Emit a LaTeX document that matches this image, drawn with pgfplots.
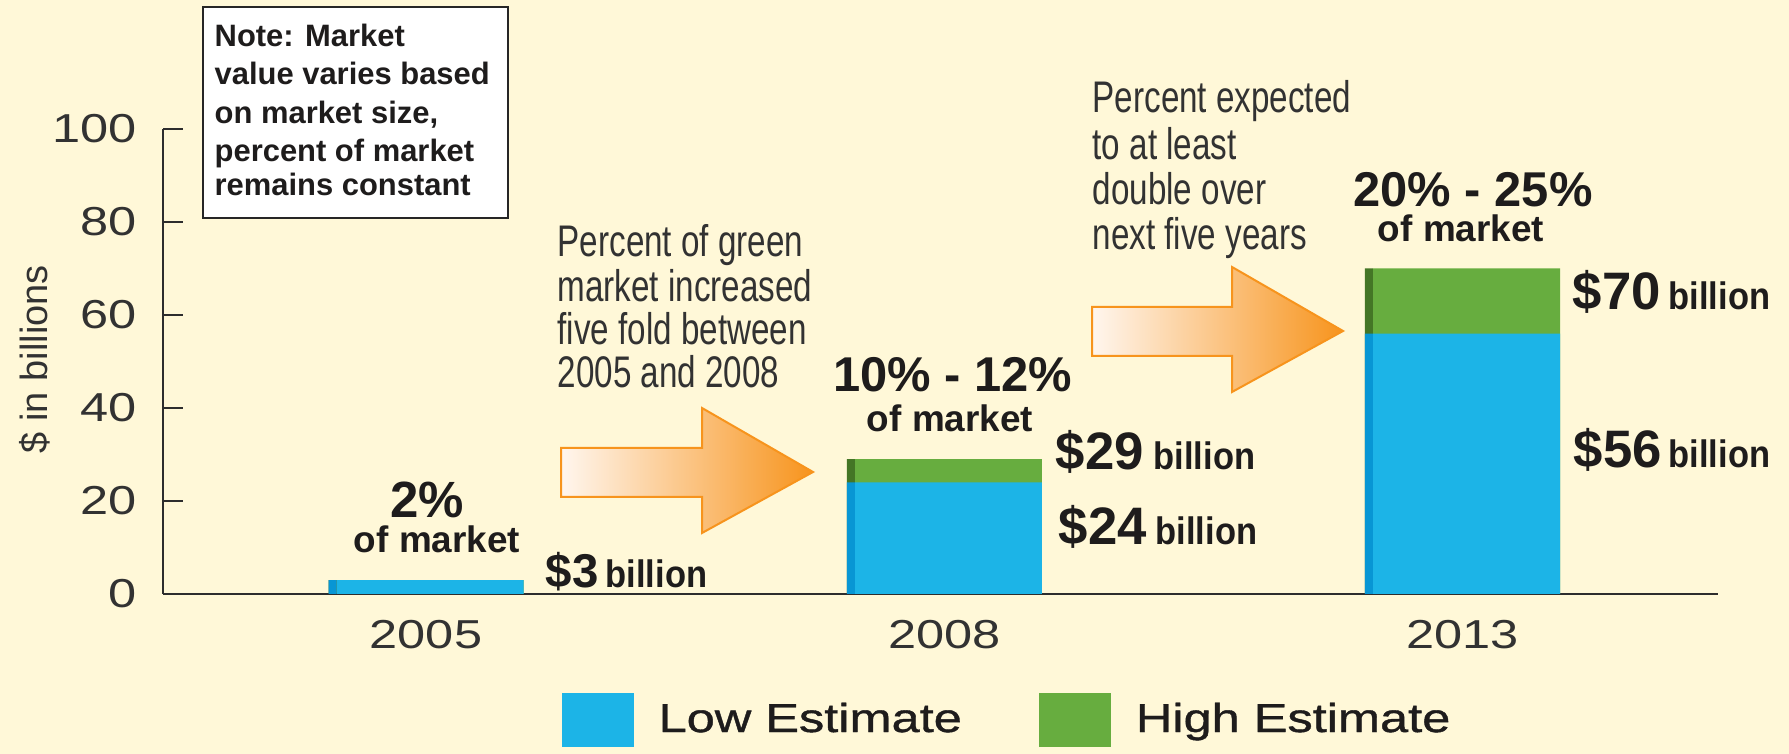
\documentclass[border=0pt]{standalone}
\usepackage{fontspec}
\setmainfont{Liberation Sans}
\newfontfamily\condfont[FakeStretch=0.75]{Liberation Sans}
\newfontfamily\widefont[FakeStretch=1.25]{Liberation Sans}
\newfontfamily\narrowfont[FakeStretch=0.9]{Liberation Sans}
\newfontfamily\legfont[FakeStretch=1.25,FakeBold=1]{Liberation Sans}
\usepackage{pgfplots}
\pgfplotsset{compat=1.18}

\definecolor{bg}{RGB}{255,248,216}
\definecolor{lblue}{RGB}{28,180,231}
\definecolor{lbluedk}{RGB}{8,150,212}
\definecolor{hgreen}{RGB}{103,173,63}
\definecolor{hgreendk}{RGB}{68,118,38}
\definecolor{orange1}{RGB}{247,148,29}
\definecolor{arrowmid}{RGB}{246,162,68}
\definecolor{arrowlight}{RGB}{255,246,238}
\definecolor{textdark}{RGB}{30,28,28}
\definecolor{textgray}{RGB}{50,50,50}
\definecolor{axisgray}{RGB}{45,45,45}

\newcommand\fs[1]{\fontsize{#1}{#1}\selectfont}

\begin{document}
\begin{tikzpicture}
\useasboundingbox (0,0) rectangle (178.9mm,75.4mm);
\fill[bg] (0,0) rectangle (178.9mm,75.4mm);

\begin{axis}[
  at={(16.3mm,16.0mm)}, anchor=south west,
  scale only axis, width=155.5mm, height=46.5mm,
  xmin=-0.5152, xmax=2.4853, ymin=0, ymax=100,
  axis x line*=bottom, axis y line*=left,
  axis line style={draw=axisgray, line width=0.5pt, -},
  ybar, bar width=18.7mm,
  xtick={0,1,2}, xticklabels={2005,2008,2013},
  x tick style={draw=none},
  ytick={0,20,...,100},
  y tick style={draw=axisgray, line width=0.5pt},
  tick align=inside, major tick length=2mm,
  /pgf/number format/assume math mode=true,
  xticklabel style={font=\widefont\fs{11.5}, text=textgray, anchor=base, inner sep=0pt, yshift=-5.5mm, xshift=-0.4mm},
  yticklabel style={font=\widefont\fs{11.5}, text=textgray, anchor=east, inner sep=0pt, xshift=-2.6mm},
  ylabel={\$ in billions},
  every axis y label/.style={at={(rel axis cs:-0.0823,0.505)}, rotate=90, anchor=center, font=\fs{10.8}, text=textgray},
  legend columns=2,
  reverse legend,
  legend cell align=left,
  legend style={at={(0.2559,-0.271)}, anchor=west, draw=none, fill=none, inner sep=0pt,
    font=\legfont\fs{11.5}, text=textdark, nodes={inner sep=0pt},
    /tikz/every odd column/.append style={column sep=2.5mm},
    /tikz/every even column/.append style={column sep=7.7mm}},
  clip=false,
]
% high estimate (total) drawn first, low estimate over it
\addplot[fill=hgreen, draw=none, bar shift=0pt,
  legend image code/.code={\fill[hgreen] (0mm,-2.7mm) rectangle (7.2mm,2.7mm);}]
  coordinates {(0,3) (1,29) (2,70)};
\addlegendentry{High Estimate}
\addplot[fill=lblue, draw=none, bar shift=0pt,
  legend image code/.code={\fill[lblue] (0mm,-2.7mm) rectangle (7.2mm,2.7mm);}]
  coordinates {(0,3) (1,24) (2,56)};
\addlegendentry{Low Estimate}
% darker left faces of the bars
\addplot[fill=hgreendk, draw=none, bar shift=-9.75mm, bar width=0.8mm, forget plot]
  coordinates {(0,3) (1,29) (2,70)};
\addplot[fill=lbluedk, draw=none, bar shift=-9.75mm, bar width=0.8mm, forget plot]
  coordinates {(0,3) (1,24) (2,56)};
\end{axis}

\begin{scope}[x=0.1mm, y=-0.1mm, yshift=75.4mm]
% arrows
\shadedraw[left color=arrowlight, middle color=arrowmid, right color=orange1,
  draw=orange1, line width=0.2mm]
  (561,448) -- (702,448) -- (702,408) -- (813,472) -- (702,533) -- (702,497) -- (561,497) -- cycle;
\shadedraw[left color=arrowlight, middle color=arrowmid, right color=orange1,
  draw=orange1, line width=0.2mm]
  (1092,307) -- (1232,307) -- (1232,267) -- (1343,331) -- (1232,392) -- (1232,356) -- (1092,356) -- cycle;

% note box
\draw[fill=white, draw=black!85, line width=0.15mm] (203,7) rectangle (508,218);
\foreach \yy/\mytext in {47/{Note: Market}, 85/{value varies based}, 124/{on market size,},
    162/{percent of market}, 196/{remains constant}}
  \node[anchor=base west, inner sep=0pt, font=\bfseries\fs{8.8}, text=textdark] at (214,\yy) {\mytext};

% annotations
\foreach \yy/\mytext in {257/{Percent of green}, 302/{market increased}, 345/{five fold between}, 388/{2005 and 2008}}
  \node[anchor=base west, inner sep=0pt, font=\condfont\fs{12.6}, text=textgray] at (557,\yy) {\mytext};
\foreach \yy/\mytext in {113/{Percent expected}, 160/{to at least}, 205/{double over}, 250/{next five years}}
  \node[anchor=base west, inner sep=0pt, font=\condfont\fs{12.6}, text=textgray] at (1092,\yy) {\mytext};

% share of market labels
\begin{scope}[every node/.style={inner sep=0pt, text=textdark}]
\node[anchor=base] at (427,518) {\bfseries\fs{14.5}2\%};
\node[anchor=base] at (437,553) {\bfseries\fs{10.5}of market};
\node[anchor=base] at (953,392) {\bfseries\fs{13.9}10\% - 12\%};
\node[anchor=base] at (950,432) {\bfseries\fs{10.5}of market};
\node[anchor=base] at (1473,207) {\bfseries\fs{13.9}20\% - 25\%};
\node[anchor=base] at (1461,242) {\bfseries\fs{10.5}of market};

% value labels
\node[anchor=base west] at (545,588) {\bfseries\fs{13.5}\$3};
\node[anchor=base west] at (605,588) {\narrowfont\bfseries\fs{10.9}billion};
\node[anchor=base west] at (1055,470) {\bfseries\fs{15}\$29};
\node[anchor=base west] at (1153,470) {\narrowfont\bfseries\fs{10.9}billion};
\node[anchor=base west] at (1058,545) {\bfseries\fs{15}\$24};
\node[anchor=base west] at (1155,545) {\narrowfont\bfseries\fs{10.9}billion};
\node[anchor=base west] at (1572,310) {\bfseries\fs{15}\$70};
\node[anchor=base west] at (1668,310) {\narrowfont\bfseries\fs{10.9}billion};
\node[anchor=base west] at (1573,468) {\bfseries\fs{15}\$56};
\node[anchor=base west] at (1668,468) {\narrowfont\bfseries\fs{10.9}billion};
\end{scope}
\end{scope}
\end{tikzpicture}
\end{document}
